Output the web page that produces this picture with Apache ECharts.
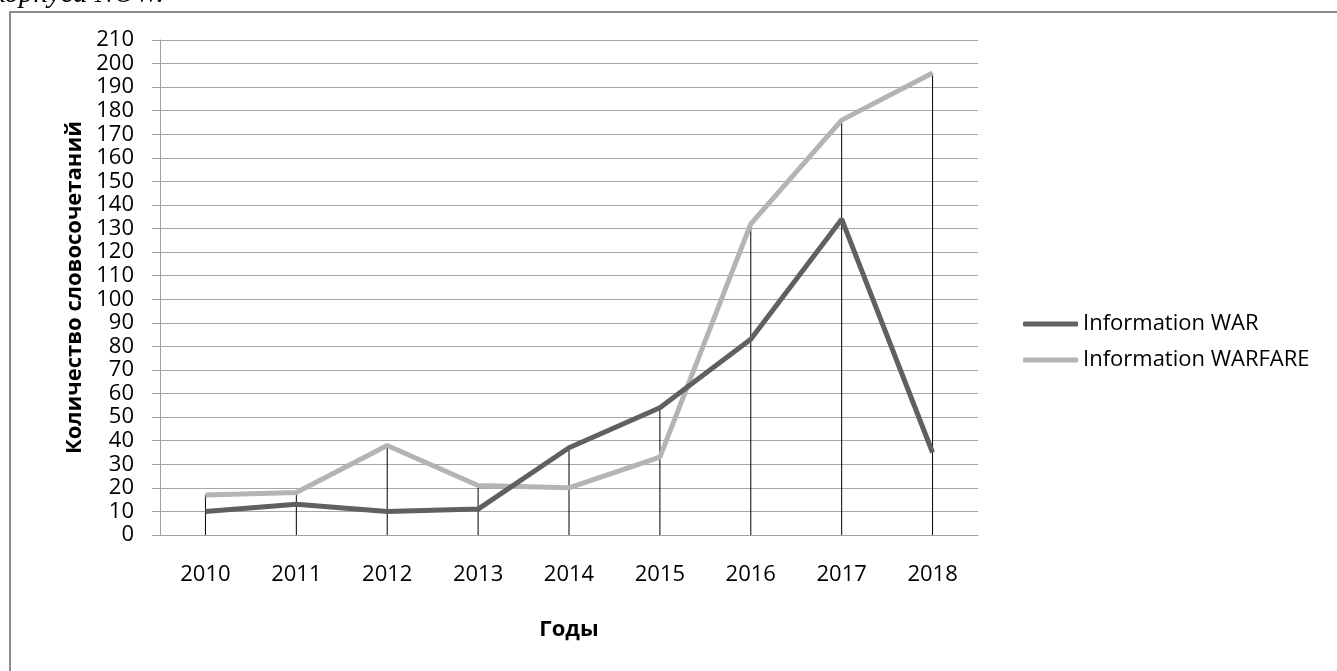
<!DOCTYPE html>
<html>
<head>
<meta charset="utf-8">
<script src="https://cdn.jsdelivr.net/npm/echarts@6/dist/echarts.min.js"></script>
<style>
html,body{margin:0;padding:0;background:#fff;}
#chart{width:1337px;height:671px;}
</style>
</head>
<body>
<div id="chart"></div>
<script>
const years = ['2010','2011','2012','2013','2014','2015','2016','2017','2018'];
const warValues = [10, 13, 10, 11, 37, 54, 83, 134, 35];
const warfareValues = [17, 18, 38, 21, 20, 33, 132, 176, 196];
const seriesNames = ['Information WAR', 'Information WARFARE'];
const yAxisTitle = 'Количество словосочетаний';
const xAxisTitle = 'Годы';

const dropValues = years.map((_, i) => Math.max(warValues[i], warfareValues[i]));
const FONT = '"Open Sans", "Noto Sans", sans-serif';

const chart = echarts.init(document.getElementById('chart'));
chart.setOption({
  animation: false,
  backgroundColor: '#fff',
  graphic: [
    { type: 'rect', shape: { x: 10, y: 12, width: 1340, height: 700 },
      style: { fill: 'none', stroke: '#8c8c8c', lineWidth: 2 }, z: 0 },
    { type: 'text', left: -8, top: -20,
      style: { text: 'корпуса NOW.', font: 'italic 29px "Liberation Serif", serif', fill: '#000' }, z: 10 }
  ],
  grid: { left: 160, right: 359, top: 40, bottom: 136, containLabel: false },
  legend: {
    orient: 'vertical', left: 1018, top: 308, itemGap: 14,
    itemWidth: 55, itemHeight: 5, icon: 'roundRect',
    data: seriesNames,
    textStyle: { fontFamily: FONT, fontSize: 22, color: '#000' }
  },
  xAxis: {
    type: 'category', data: years, boundaryGap: true,
    name: xAxisTitle, nameLocation: 'middle', nameGap: 84,
    nameTextStyle: { fontFamily: FONT, fontSize: 22, fontWeight: 'bold', color: '#000' },
    axisLine: { lineStyle: { color: '#a0a0a0', width: 1 } },
    axisTick: { show: false },
    axisLabel: { fontFamily: FONT, fontSize: 22, color: '#000', margin: 29 },
    splitLine: { show: false }
  },
  yAxis: {
    type: 'value', min: 0, max: 210, interval: 10,
    name: yAxisTitle, nameLocation: 'middle', nameGap: 68, nameRotate: 90,
    nameTextStyle: { fontFamily: FONT, fontSize: 22, fontWeight: 'bold', color: '#000' },
    axisLine: { show: true, lineStyle: { color: '#a0a0a0', width: 1 } },
    axisTick: { show: true, inside: false, length: 8, lineStyle: { color: '#a0a0a0' } },
    axisLabel: { fontFamily: FONT, fontSize: 22, color: '#000', margin: 26 },
    splitLine: { show: true, lineStyle: { color: '#a6a6a6', width: 1 } }
  },
  series: [
    { name: 'drop', type: 'bar', data: dropValues, barWidth: 1,
      itemStyle: { color: '#000' }, z: 1, silent: true },
    { name: seriesNames[0], type: 'line', data: warValues, showSymbol: false,
      lineStyle: { color: '#606060', width: 5 }, itemStyle: { color: '#606060' }, z: 3 },
    { name: seriesNames[1], type: 'line', data: warfareValues, showSymbol: false,
      lineStyle: { color: '#b4b4b4', width: 5 }, itemStyle: { color: '#b4b4b4' }, z: 2 }
  ]
});
</script>
</body>
</html>
